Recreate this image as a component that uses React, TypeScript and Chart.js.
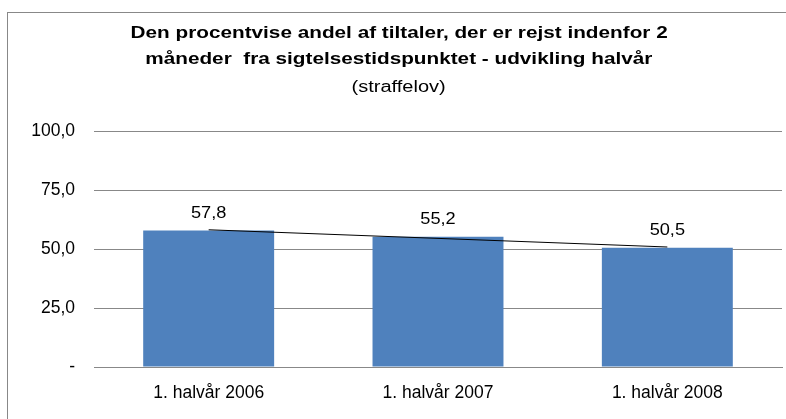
import React, { useEffect, useRef } from "react";
import { Chart, registerables } from "chart.js";

Chart.register(...registerables);

const categories = ["1. halvår 2006", "1. halvår 2007", "1. halvår 2008"];
const shares = [57.8, 55.2, 50.5];
const trend = [58.15, 54.5, 50.85];
const yTicks = [0, 25, 50, 75, 100];
const titleLines = [
  "Den procentvise andel af tiltaler, der er rejst indenfor 2",
  "måneder  fra sigtelsestidspunktet - udvikling halvår",
];
const subtitleText = "(straffelov)";

const FONT = "'Liberation Sans', Arial, sans-serif";
const fmt = (v: number) => (v === 0 ? "-" : v.toFixed(1).replace(".", ","));

const labelPlugin = {
  id: "barLabels",
  afterDatasetsDraw(chart: any) {
    const ctx = chart.ctx;
    const meta = chart.getDatasetMeta(0);
    ctx.save();
    ctx.font = `17px ${FONT}`;
    ctx.fillStyle = "#000";
    ctx.textAlign = "center";
    ctx.textBaseline = "alphabetic";
    meta.data.forEach((el: any, i: number) => {
      ctx.save();
      ctx.translate(el.x, el.y - 13);
      ctx.scale(1.07, 1);
      ctx.fillText(fmt(shares[i]), 0, 0);
      ctx.restore();
    });
    ctx.restore();
  },
};

export default function App() {
  const ref = useRef<HTMLCanvasElement>(null);
  useEffect(() => {
    if (!ref.current) return;
    const chart = new Chart(ref.current, {
      type: "bar",
      data: {
        labels: categories,
        datasets: [
          {
            type: "bar",
            data: shares,
            backgroundColor: "#4F81BD",
            categoryPercentage: 1,
            barPercentage: 0.571,
            order: 2,
          },
          {
            type: "line",
            data: trend,
            borderColor: "#000",
            borderWidth: 1,
            pointRadius: 0,
            fill: false,
            order: 1,
          } as any,
        ],
      },
      options: {
        responsive: false,
        animation: false,
        layout: { padding: { left: 0, right: 4, top: 131, bottom: 0 } },
        plugins: {
          legend: { display: false },
          tooltip: { enabled: false },
          title: { display: false },
        },
        scales: {
          x: {
            afterFit: (scale: any) => {
              scale.height = 52;
            },
            grid: { display: false, drawTicks: false },
            border: { display: true, color: "#888", width: 1 },
            ticks: { color: "#000", font: { family: FONT, size: 17.5 }, padding: 16, maxRotation: 0 },
          },
          y: {
            min: 0,
            max: 100,
            afterFit: (scale: any) => {
              scale.width = 94;
            },
            afterBuildTicks: (axis: any) => {
              axis.ticks = yTicks.map((v) => ({ value: v }));
            },
            grid: { color: "#888", drawTicks: false },
            border: { display: false },
            ticks: {
              color: "#000",
              font: { family: FONT, size: 17.5 },
              padding: 19,
              callback: (v: any) => fmt(Number(v)),
            },
          },
        },
      },
      plugins: [labelPlugin],
    });
    return () => chart.destroy();
  }, []);
  return (
    <div style={{ position: "fixed", left: 0, top: 0, width: 786, height: 419, overflow: "hidden", background: "#fff" }}>
      <div style={{ position: "absolute", left: 7, top: 12, width: 900, height: 600, borderLeft: "1px solid #888", borderTop: "1px solid #888" }} />
      <canvas ref={ref} width={786} height={419} style={{ position: "absolute", left: 0, top: 0 }} />
      <div style={{ position: "absolute", left: 0, top: 20, width: 798, textAlign: "center", fontFamily: FONT, color: "#000" }}>
        {titleLines.map((t, i) => (
          <div key={i} style={{ fontSize: 17, fontWeight: "bold", lineHeight: "26px", whiteSpace: "pre" }}>
            <span style={{ display: "inline-block", transform: "scaleX(1.22)" }}>{t}</span>
          </div>
        ))}
      </div>
      <div style={{ position: "absolute", left: 0, top: 77, width: 798, textAlign: "center", fontFamily: FONT, color: "#000", fontSize: 16, lineHeight: "20px" }}>
        <span style={{ display: "inline-block", transform: "scaleX(1.25)" }}>{subtitleText}</span>
      </div>
    </div>
  );
}
